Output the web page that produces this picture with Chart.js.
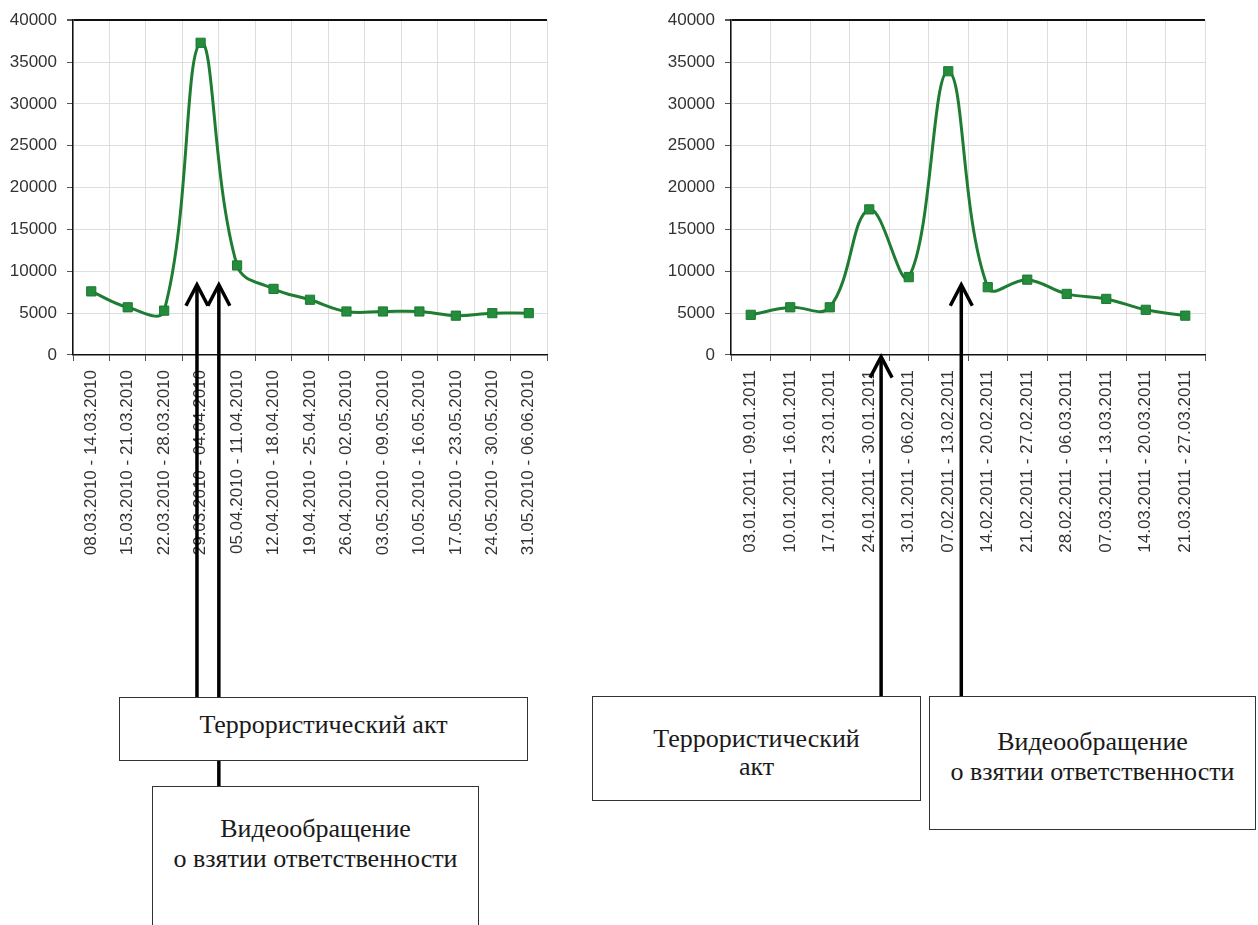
<!DOCTYPE html>
<html lang="ru">
<head>
<meta charset="utf-8">
<title>Обращения по неделям</title>
<script src="https://cdn.jsdelivr.net/npm/chart.js@4.4.1/dist/chart.umd.min.js"></script>
<style>
  html, body { margin: 0; padding: 0; background: #fff; }
  body { width: 1258px; height: 925px; position: relative; overflow: hidden; }
  canvas { position: absolute; top: 0; }
  #leftChart { left: 0; }
  #rightChart { left: 629px; }
  .note {
    position: absolute;
    box-sizing: border-box;
    border: 1.5px solid #333;
    background: #fff;
    font-family: 'Liberation Serif', 'DejaVu Serif', serif;
    font-size: 26px;
    color: #1a1a1a;
    text-align: center;
    line-height: 30px;
  }
</style>
</head>
<body>
<canvas id="leftChart" width="629" height="925"></canvas>
<canvas id="rightChart" width="629" height="925"></canvas>

<div class="note" style="left:119px; top:697px; width:409px; height:64px; padding-top:12px;">Террористический акт</div>
<div class="note" style="left:152px; top:786px; width:327px; height:160px; padding-top:27px;">Видеообращение<br>о взятии ответственности</div>
<div class="note" style="left:592px; top:696px; width:329px; height:105px; padding-top:28px; line-height:28px;">Террористический<br>акт</div>
<div class="note" style="left:929px; top:696px; width:327px; height:134px; padding-top:30px;">Видеообращение<br>о взятии ответственности</div>

<script>
const leftLabels = [
  '08.03.2010 - 14.03.2010', '15.03.2010 - 21.03.2010', '22.03.2010 - 28.03.2010',
  '29.03.2010 - 04.04.2010', '05.04.2010 - 11.04.2010', '12.04.2010 - 18.04.2010',
  '19.04.2010 - 25.04.2010', '26.04.2010 - 02.05.2010', '03.05.2010 - 09.05.2010',
  '10.05.2010 - 16.05.2010', '17.05.2010 - 23.05.2010', '24.05.2010 - 30.05.2010',
  '31.05.2010 - 06.06.2010'
];
const leftValues = [7600, 5700, 5300, 37300, 10700, 7900, 6600, 5200, 5200, 5200, 4700, 5000, 5000];

const rightLabels = [
  '03.01.2011 - 09.01.2011', '10.01.2011 - 16.01.2011', '17.01.2011 - 23.01.2011',
  '24.01.2011 - 30.01.2011', '31.01.2011 - 06.02.2011', '07.02.2011 - 13.02.2011',
  '14.02.2011 - 20.02.2011', '21.02.2011 - 27.02.2011', '28.02.2011 - 06.03.2011',
  '07.03.2011 - 13.03.2011', '14.03.2011 - 20.03.2011', '21.03.2011 - 27.03.2011'
];
const rightValues = [4800, 5700, 5700, 17400, 9300, 33900, 8100, 9000, 7300, 6700, 5400, 4700];

const yTickValues = [0, 5000, 10000, 15000, 20000, 25000, 30000, 35000, 40000];

// arrows: category position, value at the tip, page y where the shaft ends
const leftArrows = [
  { at: 2.9, tipValue: 8400, endY: 697 },
  { at: 3.5, tipValue: 8400, endY: 786 }
];
const rightArrows = [
  { at: 3.3, tipValue: -200, endY: 696 },
  { at: 5.33, tipValue: 8400, endY: 696 }
];

const tickFont = { family: "'Liberation Sans', Arial, sans-serif", size: 17 };

function makeArrowPlugin(arrows) {
  return {
    id: 'arrows',
    afterDraw(chart) {
      const { ctx } = chart;
      const x = chart.scales.x;
      const y = chart.scales.y;
      ctx.save();
      ctx.strokeStyle = '#000';
      ctx.lineWidth = 3.5;
      arrows.forEach((a) => {
        const px = x.getPixelForValue(a.at);
        const tip = y.getPixelForValue(a.tipValue);
        ctx.beginPath();
        ctx.moveTo(px, a.endY);
        ctx.lineTo(px, tip + 2);
        ctx.stroke();
        ctx.beginPath();
        ctx.moveTo(px - 11, tip + 21);
        ctx.lineTo(px, tip);
        ctx.lineTo(px + 11, tip + 21);
        ctx.stroke();
      });
      ctx.restore();
    }
  };
}

function makeChart(canvasId, labels, values, yAxisWidth, padRight, arrows) {
  return new Chart(document.getElementById(canvasId), {
    type: 'line',
    data: {
      labels,
      datasets: [
        {
          data: values,
          borderColor: '#1e7d32',
          borderWidth: 3,
          tension: 0.4,
          fill: false,
          pointStyle: 'rect',
          pointRadius: 6.5,
          pointBackgroundColor: '#248c3c',
          pointBorderColor: '#1c7a30',
          pointBorderWidth: 1
        }
      ]
    },
    options: {
      responsive: false,
      animation: false,
      layout: { padding: { top: 16, right: padRight, left: 0, bottom: 0 } },
      plugins: { legend: { display: false }, tooltip: { enabled: false } },
      scales: {
        x: {
          offset: true,
          grid: {
            offset: true,
            color: (c) => (c.index === labels.length ? 'rgba(0,0,0,0)' : '#dedede'),
            tickColor: '#555',
            tickLength: 6
          },
          border: { color: '#111', width: 1.5 },
          ticks: {
            autoSkip: false,
            minRotation: 90,
            maxRotation: 90,
            padding: 9,
            color: '#333',
            font: tickFont
          },
          afterFit: (axis) => { axis.height = 570; }
        },
        y: {
          min: 0,
          max: 40000,
          afterBuildTicks: (axis) => { axis.ticks = yTickValues.map((v) => ({ value: v })); },
          grid: {
            color: (c) => (c.tick && c.tick.value === 40000 ? '#111' : '#dedede'),
            lineWidth: (c) => (c.tick && c.tick.value === 40000 ? 2 : 1),
            tickColor: '#555',
            tickLength: 6
          },
          border: { color: '#111', width: 1.5 },
          ticks: {
            padding: 10,
            color: '#333',
            font: tickFont,
            callback: (v) => String(v)
          },
          afterFit: (axis) => { axis.width = yAxisWidth; }
        }
      }
    },
    plugins: [makeArrowPlugin(arrows)]
  });
}

makeChart('leftChart', leftLabels, leftValues, 73, 82, leftArrows);
makeChart('rightChart', rightLabels, rightValues, 102, 53, rightArrows);
</script>
</body>
</html>
